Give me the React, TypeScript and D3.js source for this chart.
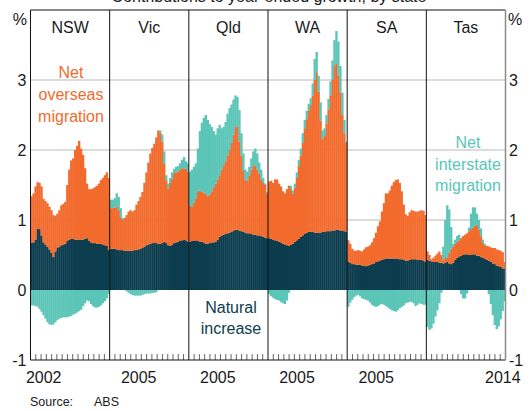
import * as d3 from "d3";

// panels and axis text
const states = ["NSW", "Vic", "Qld", "WA", "SA", "Tas"];
const yearLabels = ["2002", "2005", "2005", "2005", "2005", "2014"];
const yTicks = [-1, 0, 1, 2, 3];
const gridValues = [1, 2, 3];

// contributions to year-ended growth, ppt (quarterly, per state)
const nswNatural = [0.68, 0.68, 0.72, 0.88, 0.87, 0.78, 0.68, 0.65, 0.62, 0.58, 0.53, 0.47, 0.55, 0.6, 0.62, 0.64, 0.65, 0.66, 0.7, 0.72, 0.73, 0.73, 0.72, 0.72, 0.72, 0.72, 0.72, 0.73, 0.74, 0.7, 0.68, 0.67, 0.67, 0.66, 0.66, 0.66, 0.65, 0.64, 0.63, 0.57];
const nswOverseas = [0.66, 0.7, 0.76, 0.66, 0.66, 0.7, 0.62, 0.62, 0.62, 0.61, 0.61, 0.6, 0.51, 0.49, 0.52, 0.57, 0.58, 0.6, 0.8, 1.0, 1.12, 1.15, 1.28, 1.34, 1.41, 1.3, 1.21, 1.01, 0.78, 0.74, 0.76, 0.78, 0.8, 0.83, 0.86, 0.91, 0.95, 1.0, 1.05, 1.03];
const nswInterstate = [-0.22, -0.22, -0.23, -0.24, -0.27, -0.31, -0.36, -0.41, -0.46, -0.49, -0.5, -0.49, -0.46, -0.43, -0.41, -0.4, -0.39, -0.39, -0.39, -0.38, -0.37, -0.35, -0.34, -0.32, -0.3, -0.28, -0.23, -0.19, -0.15, -0.16, -0.2, -0.23, -0.25, -0.25, -0.24, -0.22, -0.19, -0.16, -0.12, -0.06];

const vicNatural = [0.59, 0.59, 0.59, 0.58, 0.57, 0.57, 0.57, 0.56, 0.56, 0.56, 0.56, 0.56, 0.57, 0.57, 0.58, 0.59, 0.6, 0.62, 0.64, 0.65, 0.66, 0.67, 0.68, 0.67, 0.66, 0.66, 0.67, 0.69, 0.67, 0.64, 0.63, 0.65, 0.67, 0.68, 0.69, 0.7, 0.71, 0.72, 0.71, 0.69];
const vicOverseas = [0.58, 0.58, 0.59, 0.61, 0.57, 0.47, 0.43, 0.47, 0.51, 0.56, 0.58, 0.56, 0.57, 0.65, 0.69, 0.74, 0.8, 0.91, 1.04, 1.17, 1.29, 1.36, 1.41, 1.51, 1.62, 1.59, 1.45, 1.11, 0.9, 0.81, 0.9, 0.94, 1.0, 1.0, 1.0, 1.02, 1.03, 1.02, 1.02, 1.0];
const vicInterstate = [0.12, 0.12, 0.13, 0.19, 0.19, 0.13, 0.03, 0.0, -0.02, -0.04, -0.06, -0.07, -0.08, -0.08, -0.08, -0.08, -0.07, -0.06, -0.05, -0.05, -0.05, -0.04, -0.04, -0.03, 0.0, 0.03, 0.1, 0.18, 0.07, 0.07, 0.07, 0.09, 0.06, 0.08, 0.08, 0.09, 0.12, 0.16, 0.11, 0.12];

const qldNatural = [0.69, 0.7, 0.7, 0.71, 0.7, 0.69, 0.69, 0.68, 0.66, 0.66, 0.67, 0.68, 0.68, 0.69, 0.72, 0.76, 0.78, 0.79, 0.8, 0.81, 0.82, 0.83, 0.85, 0.86, 0.86, 0.85, 0.84, 0.83, 0.82, 0.81, 0.81, 0.8, 0.79, 0.79, 0.78, 0.78, 0.77, 0.76, 0.75, 0.74];
const qldOverseas = [0.52, 0.49, 0.55, 0.6, 0.7, 0.73, 0.72, 0.71, 0.71, 0.68, 0.69, 0.73, 0.79, 0.83, 0.86, 0.88, 0.94, 0.99, 1.04, 1.11, 1.18, 1.27, 1.37, 1.47, 1.47, 1.27, 1.08, 0.87, 0.75, 0.75, 0.83, 0.92, 0.98, 0.99, 0.94, 0.88, 0.81, 0.77, 0.75, 0.64];
const qldInterstate = [0.48, 0.53, 0.51, 0.5, 0.62, 0.85, 0.98, 1.07, 1.13, 1.09, 1.01, 0.92, 0.8, 0.7, 0.73, 0.72, 0.59, 0.55, 0.56, 0.6, 0.6, 0.55, 0.5, 0.45, 0.43, 0.45, 0.32, 0.25, 0.15, 0.13, 0.12, 0.16, 0.21, 0.24, 0.23, 0.16, 0.14, 0.07, 0.02, 0.02];

const waNatural = [0.74, 0.73, 0.72, 0.71, 0.7, 0.69, 0.68, 0.66, 0.65, 0.64, 0.63, 0.65, 0.66, 0.69, 0.71, 0.73, 0.76, 0.78, 0.8, 0.82, 0.83, 0.83, 0.83, 0.82, 0.82, 0.82, 0.82, 0.83, 0.83, 0.84, 0.84, 0.84, 0.85, 0.85, 0.86, 0.86, 0.85, 0.85, 0.84, 0.83];
const waOverseas = [0.81, 0.83, 0.81, 0.87, 0.88, 0.83, 0.8, 0.75, 0.73, 0.8, 0.86, 0.79, 0.72, 0.77, 0.89, 1.04, 1.16, 1.32, 1.5, 1.62, 1.73, 1.81, 1.95, 2.18, 2.28, 2.01, 1.6, 1.33, 1.37, 1.54, 1.74, 1.94, 2.15, 2.36, 2.38, 2.2, 1.97, 1.65, 1.4, 1.27];
const waInterstate = [-0.06, -0.09, -0.11, -0.13, -0.14, -0.15, -0.17, -0.19, -0.2, -0.15, -0.04, 0.05, 0.04, 0.06, 0.08, 0.09, 0.1, 0.14, 0.13, 0.12, 0.1, 0.1, 0.17, 0.3, 0.3, 0.23, 0.26, 0.12, 0.11, 0.12, 0.15, 0.2, 0.28, 0.36, 0.46, 0.49, 0.38, 0.32, 0.19, 0.02];

const saNatural = [0.4, 0.39, 0.37, 0.37, 0.36, 0.36, 0.36, 0.35, 0.35, 0.34, 0.35, 0.36, 0.37, 0.38, 0.4, 0.41, 0.42, 0.43, 0.44, 0.45, 0.45, 0.45, 0.45, 0.45, 0.45, 0.45, 0.44, 0.44, 0.43, 0.42, 0.42, 0.43, 0.44, 0.44, 0.44, 0.43, 0.43, 0.43, 0.42, 0.4];
const saOverseas = [0.31, 0.27, 0.22, 0.19, 0.2, 0.21, 0.2, 0.2, 0.23, 0.27, 0.27, 0.28, 0.31, 0.36, 0.42, 0.5, 0.56, 0.69, 0.8, 0.93, 0.93, 0.97, 1.04, 1.09, 1.12, 1.13, 1.09, 0.97, 0.79, 0.66, 0.64, 0.68, 0.7, 0.69, 0.68, 0.69, 0.7, 0.71, 0.71, 0.67];
const saInterstate = [-0.24, -0.18, -0.14, -0.1, -0.08, -0.07, -0.09, -0.12, -0.13, -0.14, -0.15, -0.18, -0.21, -0.23, -0.24, -0.23, -0.21, -0.2, -0.21, -0.23, -0.25, -0.27, -0.29, -0.3, -0.31, -0.29, -0.26, -0.24, -0.22, -0.19, -0.18, -0.17, -0.17, -0.19, -0.23, -0.21, -0.19, -0.2, -0.21, -0.21];

const tasNatural = [0.43, 0.42, 0.41, 0.4, 0.4, 0.4, 0.39, 0.39, 0.38, 0.39, 0.4, 0.38, 0.37, 0.39, 0.43, 0.46, 0.48, 0.49, 0.5, 0.51, 0.51, 0.5, 0.5, 0.51, 0.51, 0.49, 0.49, 0.47, 0.46, 0.45, 0.43, 0.42, 0.4, 0.38, 0.37, 0.35, 0.34, 0.33, 0.31, 0.3];
const tasOverseas = [0.12, 0.08, 0.03, 0.06, 0.09, 0.12, 0.16, 0.11, 0.05, 0.08, 0.06, 0.15, 0.22, 0.23, 0.23, 0.23, 0.23, 0.25, 0.27, 0.28, 0.3, 0.34, 0.37, 0.38, 0.41, 0.44, 0.37, 0.3, 0.21, 0.19, 0.2, 0.2, 0.21, 0.22, 0.23, 0.23, 0.23, 0.23, 0.23, 0.1];
const tasInterstate = [-0.53, -0.57, -0.55, -0.48, -0.38, -0.29, -0.19, -0.04, 0.19, 0.53, 0.75, 0.62, 0.31, 0.04, 0.06, 0.08, 0.08, -0.06, -0.12, -0.12, -0.05, 0.05, 0.22, 0.29, 0.26, 0.16, 0.14, 0.11, 0.05, 0.02, 0.0, -0.06, -0.2, -0.36, -0.5, -0.56, -0.52, -0.42, -0.3, -0.16];

const naturalByState = [nswNatural, vicNatural, qldNatural, waNatural, saNatural, tasNatural];
const overseasByState = [nswOverseas, vicOverseas, qldOverseas, waOverseas, saOverseas, tasOverseas];
const interstateByState = [nswInterstate, vicInterstate, qldInterstate, waInterstate, saInterstate, tasInterstate];

type Row = { i: number; natural: number; overseas: number; interstate: number };
const keys = ["natural", "overseas", "interstate"];
const colors: Record<string, string> = {
  natural: "#0c3d4e",
  overseas: "#f26b2d",
  interstate: "#5bc5b7",
};

const FONT = "'Liberation Sans', Arial, Helvetica, sans-serif";

export default function App() {
  const width = 531;
  const height = 411;
  const left = 30.5;
  const right = 505.5;
  const top = 10;
  const bottom = 360;

  const panel = d3.scaleBand<string>().domain(states).range([left, right]);
  const y = d3.scaleLinear().domain([-1, 4]).range([bottom, top]);
  const stack = d3.stack<Row>().keys(keys).offset(d3.stackOffsetDiverging);

  return (
    <svg
      width={width}
      height={height}
      style={{ position: "absolute", left: 0, top: 0, background: "#fff" }}
      fontFamily={FONT}
    >
      <text x={269} y={2} textAnchor="middle" fontSize={16} fill="#1a1a1a">
        Contributions to year-ended growth, by state
      </text>

      {/* gridlines */}
      {gridValues.map((v) => (
        <line key={v} x1={left} x2={right} y1={y(v)} y2={y(v)} stroke="#b8b8b8" strokeWidth={1} />
      ))}

      {states.map((s, si) => {
        const x0 = panel(s)!;
        const bw = panel.bandwidth();
        const rows: Row[] = naturalByState[si].map((v, i) => ({
          i,
          natural: v,
          overseas: overseasByState[si][i],
          interstate: interstateByState[si][i],
        }));
        const x = d3
          .scaleBand<number>()
          .domain(rows.map((r) => r.i))
          .range([x0, x0 + bw])
          .padding(0);
        const years = d3.scaleLinear().domain([2000, 2015]).range([x0, x0 + bw]);
        const layers = stack(rows);
        const labelYear = +yearLabels[si];
        return (
          <g key={s}>
            {layers.map((layer) => (
              <g key={layer.key} fill={colors[layer.key]}>
                {layer.map((d, i) => {
                  const y0 = Math.min(y(d[0]), y(d[1]));
                  const h = Math.abs(y(d[0]) - y(d[1]));
                  if (h <= 0) return null;
                  const last = i === layer.length - 1;
                  return (
                    <rect
                      key={i}
                      x={x(i)!}
                      width={x.bandwidth() + (last ? 0 : 0.35)}
                      y={y0}
                      height={h}
                    />
                  );
                })}
              </g>
            ))}
            {d3.range(2001, 2015).map((yr) => (
              <line
                key={yr}
                x1={years(yr)}
                x2={years(yr)}
                y1={bottom}
                y2={bottom - 6}
                stroke="#666"
                strokeWidth={1}
              />
            ))}
            <text x={years(labelYear + 0.5)} y={383} textAnchor="middle" fontSize={16} fill="#1a1a1a">
              {yearLabels[si]}
            </text>
            <text x={x0 + bw / 2} y={33} textAnchor="middle" fontSize={16} fill="#1a1a1a">
              {s}
            </text>
          </g>
        );
      })}

      {/* panel dividers and frame */}
      {states.slice(1).map((s) => (
        <line key={s} x1={panel(s)!} x2={panel(s)!} y1={top} y2={bottom} stroke="#111" strokeWidth={1} />
      ))}
      <line x1={left} x2={right} y1={top} y2={top} stroke="#111" />
      <line x1={left} x2={right} y1={bottom} y2={bottom} stroke="#111" />
      <line x1={left} x2={left} y1={top} y2={bottom} stroke="#111" />
      <line x1={right} x2={right} y1={top} y2={bottom} stroke="#8a8a8a" strokeWidth={1.5} />

      {/* y axes */}
      {yTicks.map((v) => (
        <g key={v} fontSize={16} fill="#1a1a1a">
          <text x={26.5} y={y(v)} dy="0.36em" textAnchor="end">
            {v}
          </text>
          <text x={509} y={y(v)} dy="0.36em" textAnchor="start">
            {v}
          </text>
        </g>
      ))}
      <text x={27} y={25} textAnchor="end" fontSize={16} fill="#1a1a1a">%</text>
      <text x={508} y={25} textAnchor="start" fontSize={16} fill="#1a1a1a">%</text>

      {/* annotations */}
      <text textAnchor="middle" fontSize={16} fill={colors.overseas}>
        <tspan x={71} y={78}>Net</tspan>
        <tspan x={71} y={100}>overseas</tspan>
        <tspan x={71} y={121.5}>migration</tspan>
      </text>
      <text textAnchor="middle" fontSize={16} fill={colors.natural}>
        <tspan x={231} y={313}>Natural</tspan>
        <tspan x={231} y={334}>increase</tspan>
      </text>
      <text textAnchor="middle" fontSize={16} fill={colors.interstate}>
        <tspan x={468} y={148}>Net</tspan>
        <tspan x={468} y={170}>interstate</tspan>
        <tspan x={468} y={191}>migration</tspan>
      </text>

      <text x={30} y={406} fontSize={12.5} fill="#1a1a1a">Source:</text>
      <text x={94} y={406} fontSize={12.5} fill="#1a1a1a">ABS</text>
    </svg>
  );
}
